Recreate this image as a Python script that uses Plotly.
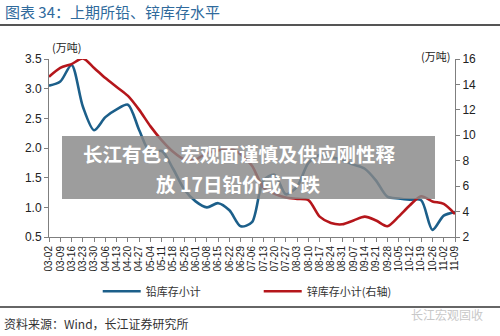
import plotly.graph_objects as go

dates = ["03-02","03-09","03-16","03-23","03-30","04-06","04-13","04-20","04-27",
         "05-04","05-11","05-18","05-25","06-01","06-08","06-15","06-22","06-29",
         "07-06","07-13","07-20","07-27","08-03","08-10","08-17","08-24","08-31",
         "09-07","09-14","09-21","09-28","10-05","10-12","10-19","10-26","11-02","11-09"]

lead = [3.05, 3.12, 3.4, 2.7, 2.3, 2.52, 2.65, 2.73, 2.3,
        1.92, 1.95, 1.65, 1.3, 1.1, 1.0, 1.07, 0.95, 0.68,
        0.75, 1.45, 1.55, 1.22, 1.35, 1.75, 1.88, 1.85, 1.8,
        1.72, 1.65, 1.45, 1.18, 1.15, 1.13, 1.12, 0.62, 0.86, 0.92]

zinc = [14.6, 15.3, 15.6, 16.05, 15.3, 14.5, 13.8, 13.1, 12.0,
        10.7, 9.6, 8.7, 8.1, 8.1, 8.6, 8.8, 9.0, 8.5,
        7.6, 5.9, 5.4, 5.1, 5.0, 4.9, 3.6, 3.1, 3.0,
        3.3, 3.6, 3.3, 2.85, 3.6, 4.5, 5.2, 4.8, 4.6, 3.8]

left_ticks = [0.5, 1.0, 1.5, 2.0, 2.5, 3.0, 3.5]
right_ticks = [2, 4, 6, 8, 10, 12, 14, 16]

FONT = "Liberation Sans, Arial, Noto Sans CJK SC, sans-serif"
CJK = "Noto Sans CJK SC, Liberation Sans, sans-serif"

fig = go.Figure()
fig.add_trace(go.Scatter(x=dates, y=lead, mode="lines", name="铅库存小计",
                         line=dict(color="#1c5f8a", width=2.6, shape="spline", smoothing=0.8),
                         yaxis="y"))
fig.add_trace(go.Scatter(x=dates, y=zinc, mode="lines", name="锌库存小计(右轴)",
                         line=dict(color="#b5161b", width=2.6, shape="spline", smoothing=0.8),
                         yaxis="y2"))

axcol = "#7f7f7f"
fig.update_layout(
    width=500, height=336,
    margin=dict(l=49, r=45, t=59, b=99),
    paper_bgcolor="white", plot_bgcolor="white",
    font=dict(family=FONT, size=12, color="#222"),
    showlegend=True,
    legend=dict(orientation="h", x=0.12, y=-0.305, xanchor="left", yanchor="middle",
                entrywidth=108, entrywidthmode="pixels", itemwidth=38,
                font=dict(family=CJK, size=11, color="#333"), bgcolor="rgba(0,0,0,0)"),
    xaxis=dict(type="category", range=[0, 36], tickangle=-90,
               tickmode="array", tickvals=dates, ticktext=dates,
               showgrid=False, showline=True, linecolor=axcol, linewidth=1,
               ticks="outside", ticklen=4, tickcolor=axcol,
               tickfont=dict(size=10, color="#222", family=FONT)),
    yaxis=dict(range=[0.5, 3.5], tickvals=left_ticks, tickformat=".1f",
               showgrid=False, showline=True, linecolor=axcol, linewidth=1,
               ticks="outside", ticklen=4, tickcolor=axcol, zeroline=False,
               tickfont=dict(size=12, color="#222")),
    yaxis2=dict(range=[2, 16], tickvals=right_ticks, overlaying="y", side="right",
                showgrid=False, showline=True, linecolor=axcol, linewidth=1,
                ticks="outside", ticklen=4, tickcolor=axcol, zeroline=False,
                tickfont=dict(size=12, color="#222")),
)

# title and separator lines
fig.add_annotation(xref="paper", yref="paper", x=(3 - 49) / 406, y=(237 - 11) / 178,
                   xanchor="left", yanchor="middle", showarrow=False,
                   text="图表 34：上期所铅、锌库存水平",
                   font=dict(family=CJK, size=15, color="#2f6a9c"))
fig.add_shape(type="line", xref="paper", yref="paper",
              x0=-49 / 406, x1=451 / 406, y0=(237 - 25) / 178, y1=(237 - 25) / 178,
              line=dict(color="#555555", width=2))
fig.add_shape(type="line", xref="paper", yref="paper",
              x0=-49 / 406, x1=451 / 406, y0=(237 - 307) / 178, y1=(237 - 307) / 178,
              line=dict(color="#333333", width=1.5))

# unit labels
fig.add_annotation(xref="paper", yref="paper", x=(50 - 49) / 406, y=(237 - 47) / 178,
                   xanchor="left", yanchor="middle", showarrow=False, text="(万吨)",
                   font=dict(family=CJK, size=11, color="#222"))
fig.add_annotation(xref="paper", yref="paper", x=(452 - 49) / 406, y=(237 - 56) / 178,
                   xanchor="right", yanchor="middle", showarrow=False, text="(万吨)",
                   font=dict(family=CJK, size=11, color="#222"))

# footer
fig.add_annotation(xref="paper", yref="paper", x=(2 - 49) / 406, y=(237 - 323) / 178,
                   xanchor="left", yanchor="middle", showarrow=False,
                   text="资料来源：Wind，长江证券研究所",
                   font=dict(family=CJK, size=12, color="#333"))
fig.add_annotation(xref="paper", yref="paper", x=(485 - 49) / 406, y=(237 - 314) / 178,
                   xanchor="right", yanchor="middle", showarrow=False,
                   text="长江宏观固收",
                   font=dict(family=CJK, size=12, color="#c8c8c8"))

# overlay banner
fig.add_shape(type="rect", xref="paper", yref="paper", layer="above",
              x0=(62 - 49) / 406, x1=(435 - 49) / 406,
              y0=(237 - 199) / 178, y1=(237 - 136) / 178,
              fillcolor="rgba(135,135,135,0.82)", line=dict(width=0))
fig.add_annotation(xref="paper", yref="paper", x=(239 - 49) / 406, y=(237 - 153.5) / 178,
                   xanchor="center", yanchor="middle", showarrow=False,
                   text="<b>长江有色：宏观面谨慎及供应刚性释</b>",
                   font=dict(family=CJK, size=19.5, color="white"))
fig.add_annotation(xref="paper", yref="paper", x=(238 - 49) / 406, y=(237 - 183) / 178,
                   xanchor="center", yanchor="middle", showarrow=False,
                   text="<b>放 17日铅价或下跌</b>",
                   font=dict(family=CJK, size=19.5, color="white"))

fig.write_html("out.html")
